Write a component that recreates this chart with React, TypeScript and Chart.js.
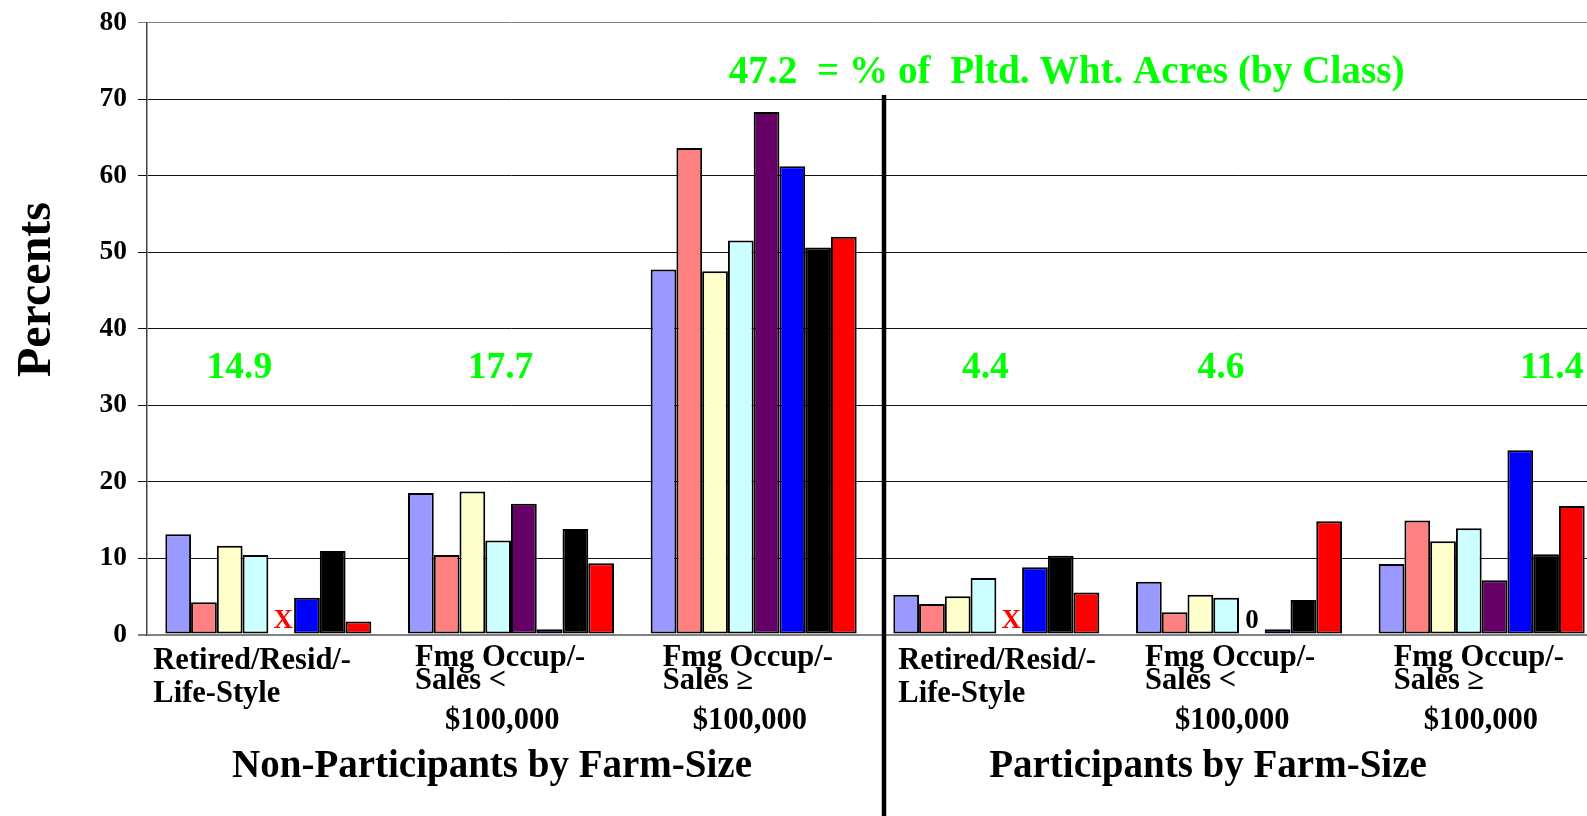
import React, { useEffect, useRef } from "react";
import { Chart, registerables } from "chart.js";

Chart.register(...registerables);

// ---------- DATA ----------
const categoryLabels: string[][] = [
  ["Retired/Resid/-", "Life-Style"],
  ["Fmg Occup/-", "Sales <", "$100,000"],
  ["Fmg Occup/-", "Sales \u2265", "$100,000"],
  ["Retired/Resid/-", "Life-Style"],
  ["Fmg Occup/-", "Sales <", "$100,000"],
  ["Fmg Occup/-", "Sales \u2265", "$100,000"],
];

const groupTitles = ["Non-Participants by Farm-Size", "Participants by Farm-Size"];
const yTitle = "Percents";
const yTicks = [0, 10, 20, 30, 40, 50, 60, 70, 80];

// % of planted wheat acres by class
const classShares = ["14.9", "17.7", "47.2", "4.4", "4.6", "11.4"];
const classShareNote = "= % of  Pltd. Wht. Acres (by Class)";

const seriesLavender = [13.1, 18.5, 47.7, 5.2, 6.9, 9.2];
const seriesSalmon = [4.2, 10.4, 63.6, 4.0, 2.9, 14.9];
const seriesYellow = [11.6, 18.7, 47.5, 5.0, 5.2, 12.2];
const seriesCyan = [10.4, 12.3, 51.5, 7.4, 4.8, 13.9];
const seriesPurple: (number | null)[] = [null, 17.1, 68.3, null, 0, 7.1];
const seriesBlue = [4.8, 0.7, 61.2, 8.8, 0.7, 24.1];
const seriesBlack = [10.9, 13.8, 50.6, 10.3, 4.5, 10.5];
const seriesRed = [1.7, 9.3, 52.0, 5.5, 14.8, 16.8];

// ---------- STYLE / LAYOUT ----------
const FONT = '"Liberation Serif", "Times New Roman", serif';
const GREEN = "#00ff00";
const CANVAS_W = 1625;
const CANVAS_H = 816;
const shareDx = [-29, -10.5, -25, -11, -18, 70]; // offsets from group centre
const labelDx = [-115, -96, -91, -98, -94, -88];
const titleX = [492, 1208];

const overlayPlugin = {
  id: "overlay",
  afterDraw(chart: any) {
    const { ctx } = chart;
    const x = chart.scales.x;
    ctx.save();
    ctx.fillStyle = "#000";

    // y title
    ctx.save();
    ctx.translate(50, 289.5);
    ctx.rotate(-Math.PI / 2);
    ctx.font = `bold 48px ${FONT}`;
    ctx.textAlign = "center";
    ctx.textBaseline = "alphabetic";
    ctx.fillText(yTitle, 0, 0);
    ctx.restore();

    // category labels
    ctx.font = `bold 30.5px ${FONT}`;
    ctx.textAlign = "left";
    ctx.textBaseline = "alphabetic";
    categoryLabels.forEach((lines, i) => {
      const cx = x.getPixelForValue(i) + labelDx[i];
      if (lines.length === 2) {
        ctx.fillText(lines[0], cx, 669);
        ctx.fillText(lines[1], cx, 702);
      } else {
        ctx.fillText(lines[0], cx, 666);
        ctx.fillText(lines[1], cx, 689);
        ctx.fillText(lines[2], cx + 30, 729);
      }
    });

    // group titles
    ctx.font = `bold 39px ${FONT}`;
    ctx.textAlign = "center";
    ctx.fillText(groupTitles[0], titleX[0], 777);
    ctx.fillText(groupTitles[1], titleX[1], 777);

    // class share labels
    ctx.fillStyle = GREEN;
    classShares.forEach((s, i) => {
      const cx = x.getPixelForValue(i) + shareDx[i];
      if (i === 2) {
        ctx.font = `bold 39.2px ${FONT}`;
        ctx.textAlign = "left";
        ctx.fillText(s + "  " + classShareNote, cx, 83);
      } else {
        ctx.font = `bold 37.5px ${FONT}`;
        ctx.textAlign = "center";
        ctx.fillText(s, cx, 378);
      }
    });

    // missing / zero markers on purple series
    const meta = chart.getDatasetMeta(4);
    ctx.font = `bold 27px ${FONT}`;
    ctx.textAlign = "center";
    seriesPurple.forEach((v, i) => {
      const el = meta.data[i];
      if (!el) return;
      if (v === null) {
        ctx.fillStyle = "#ff0000";
        ctx.fillText("X", el.x + 2, 628);
      } else if (v === 0) {
        ctx.fillStyle = "#000";
        ctx.fillText("0", el.x, 628);
      }
    });

    // divider
    ctx.strokeStyle = "#000";
    ctx.lineWidth = 4.5;
    ctx.beginPath();
    ctx.moveTo(884, 95);
    ctx.lineTo(884, CANVAS_H);
    ctx.stroke();

    ctx.restore();
  },
};

export default function App() {
  const ref = useRef<HTMLCanvasElement>(null);

  useEffect(() => {
    if (!ref.current) return;
    const mk = (label: string, data: (number | null)[], color: string) => ({
      label,
      data,
      backgroundColor: color,
      borderColor: "#000",
      borderWidth: (c: any) => (c.raw === 0 ? 0 : 2),
      borderSkipped: false,
    });
    const chart = new Chart(ref.current, {
      type: "bar",
      data: {
        labels: categoryLabels.map((l) => l.join(" ")),
        datasets: [
          mk("Series 1", seriesLavender, "#9999ff"),
          mk("Series 2", seriesSalmon, "#ff8080"),
          mk("Series 3", seriesYellow, "#ffffcc"),
          mk("Series 4", seriesCyan, "#ccffff"),
          mk("Series 5", seriesPurple, "#660066"),
          mk("Series 6", seriesBlue, "#0000ff"),
          mk("Series 7", seriesBlack, "#000000"),
          mk("Series 8", seriesRed, "#ff0000"),
        ],
      },
      options: {
        animation: false,
        responsive: false,
        devicePixelRatio: 1,
        layout: { padding: { left: 0, top: 22.5, right: CANVAS_W - 1603, bottom: 0 } },
        plugins: { legend: { display: false }, tooltip: { enabled: false }, title: { display: false } },
        datasets: { bar: { categoryPercentage: 0.849, barPercentage: 1 } },
        scales: {
          x: {
            ticks: { display: false },
            grid: { display: false },
            border: { display: false },
            afterFit: (s: any) => {
              s.height = CANVAS_H - 634.5;
              s.paddingLeft = 0;
              s.paddingRight = 0;
            },
          },
          y: {
            min: yTicks[0],
            max: yTicks[yTicks.length - 1],
            afterBuildTicks: (s: any) => {
              s.ticks = yTicks.map((v) => ({ value: v }));
            },
            ticks: {
              color: "#000",
              padding: 11,
              font: { family: FONT, size: 27.5, weight: "bold" },
            },
            grid: {
              color: (c: any) => (c.tick && (c.tick.value === 0 || c.tick.value === 80) ? "#808080" : "#111"),
              lineWidth: (c: any) => (c.tick && c.tick.value === 0 ? 2 : 1),
              tickLength: 9,
            },
            border: { display: true, color: "#444", width: 1.5 },
            afterFit: (s: any) => {
              s.width = 147;
              s.paddingTop = 0;
              s.paddingBottom = 0;
            },
          },
        },
      },
      plugins: [overlayPlugin],
    });
    return () => chart.destroy();
  }, []);

  return (
    <div style={{ position: "fixed", left: 0, top: 0, width: 1587, height: 816, overflow: "hidden", background: "#fff" }}>
      <canvas ref={ref} width={CANVAS_W} height={CANVAS_H} style={{ display: "block", width: CANVAS_W, height: CANVAS_H }} />
    </div>
  );
}
